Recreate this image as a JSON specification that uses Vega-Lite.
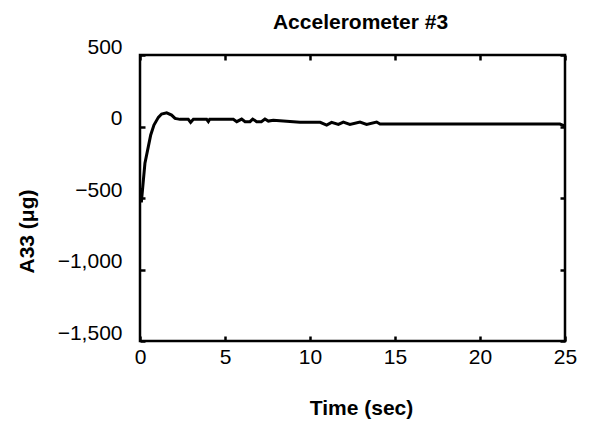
{
  "$schema": "https://vega.github.io/schema/vega-lite/v6.json",
  "width": 425,
  "height": 286,
  "autosize": {"type": "none"},
  "padding": {"left": 140, "top": 55, "right": 26, "bottom": 82},
  "background": "white",
  "title": {
    "text": "Accelerometer #3",
    "font": "Liberation Sans",
    "fontSize": 21,
    "fontWeight": "bold",
    "color": "black",
    "anchor": "middle",
    "dx": 8,
    "offset": 3
  },
  "config": {
    "view": {"stroke": "black", "strokeWidth": 2.5},
    "axis": {
      "grid": false,
      "domain": false,
      "ticks": true,
      "tickColor": "black",
      "tickWidth": 2.5,
      "tickSize": -5,
      "labelFont": "Liberation Sans",
      "labelFontSize": 21,
      "labelColor": "black",
      "titleFont": "Liberation Sans",
      "titleFontSize": 21,
      "titleFontWeight": "bold",
      "titleColor": "black"
    }
  },
  "data": {
    "values": [
      {"t": 0.0, "v": -430},
      {"t": 0.08, "v": -530},
      {"t": 0.2, "v": -374},
      {"t": 0.29, "v": -257},
      {"t": 0.49, "v": -141},
      {"t": 0.63, "v": -59},
      {"t": 0.82, "v": 10},
      {"t": 1.08, "v": 64},
      {"t": 1.27, "v": 87},
      {"t": 1.57, "v": 96},
      {"t": 1.86, "v": 80},
      {"t": 2.06, "v": 57},
      {"t": 2.35, "v": 50},
      {"t": 2.84, "v": 50},
      {"t": 2.98, "v": 29},
      {"t": 3.14, "v": 50},
      {"t": 3.92, "v": 50},
      {"t": 4.02, "v": 34},
      {"t": 4.1, "v": 50},
      {"t": 5.49, "v": 50},
      {"t": 5.69, "v": 34},
      {"t": 5.98, "v": 52},
      {"t": 6.18, "v": 34},
      {"t": 6.47, "v": 34},
      {"t": 6.63, "v": 52},
      {"t": 6.86, "v": 34},
      {"t": 7.14, "v": 34},
      {"t": 7.35, "v": 52},
      {"t": 7.55, "v": 38},
      {"t": 7.84, "v": 43},
      {"t": 9.41, "v": 29},
      {"t": 10.6, "v": 29},
      {"t": 10.98, "v": 10},
      {"t": 11.27, "v": 29},
      {"t": 11.67, "v": 15},
      {"t": 11.96, "v": 31},
      {"t": 12.35, "v": 15},
      {"t": 12.94, "v": 31},
      {"t": 13.33, "v": 15},
      {"t": 13.92, "v": 31},
      {"t": 14.12, "v": 17},
      {"t": 18.0, "v": 17},
      {"t": 22.0, "v": 17},
      {"t": 24.7, "v": 17},
      {"t": 25.0, "v": 3}
    ]
  },
  "layer": [
    {
      "mark": {"type": "line", "color": "black", "strokeWidth": 3, "clip": true},
      "encoding": {
        "x": {
          "field": "t",
          "type": "quantitative",
          "scale": {"domain": [0, 25], "nice": false, "zero": false},
          "axis": {
            "orient": "bottom",
            "values": [0, 5, 10, 15, 20, 25],
            "labelPadding": 10,
            "labelFlush": false,
            "title": "Time (sec)",
            "titleX": 221,
            "titleY": 73,
            "titleBaseline": "alphabetic",
            "titleAnchor": null
          }
        },
        "y": {
          "field": "v",
          "type": "quantitative",
          "scale": {"domain": [-1500, 500], "nice": false, "zero": false},
          "axis": {
            "orient": "left",
            "values": [-1500, -1000, -500, 0, 500],
            "format": ",d",
            "labelPadding": 23,
            "labelOffset": -8,
            "labelFlush": false,
            "title": "A33 (μg)",
            "titleX": -107,
            "titleY": 176,
            "titleAngle": -90,
            "titleBaseline": "alphabetic",
            "titleAlign": "center"
          }
        }
      }
    },
    {
      "mark": {"type": "point", "opacity": 0},
      "encoding": {
        "x": {
          "field": "t",
          "type": "quantitative",
          "axis": {
            "orient": "top",
            "values": [0, 5, 10, 15, 20, 25],
            "labels": false,
            "title": null
          }
        },
        "y": {
          "field": "v",
          "type": "quantitative",
          "axis": {
            "orient": "right",
            "values": [-1500, -1000, -500, 0, 500],
            "labels": false,
            "title": null
          }
        }
      }
    }
  ],
  "resolve": {"axis": {"x": "independent", "y": "independent"}}
}
